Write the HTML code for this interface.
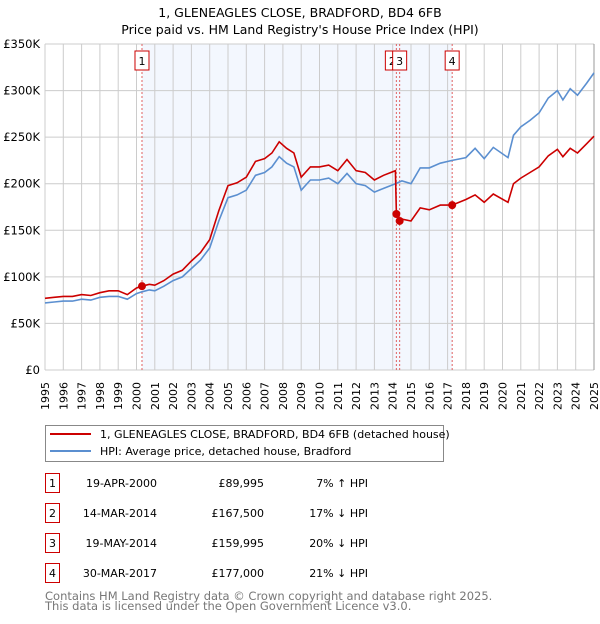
<!DOCTYPE html>
<html><head><meta charset="utf-8"><style>
body{margin:0;background:#fff;font-family:"DejaVu Sans","Liberation Sans",sans-serif;}
svg text{font-family:"DejaVu Sans","Liberation Sans",sans-serif;}
</style></head><body>
<svg id="c" width="600" height="620" xmlns="http://www.w3.org/2000/svg">
<text x="300" y="17" font-size="12.5" text-anchor="middle">1, GLENEAGLES CLOSE, BRADFORD, BD4 6FB</text>
<text x="300" y="34" font-size="12.5" text-anchor="middle">Price paid vs. HM Land Registry's House Price Index (HPI)</text>
<g id="plot"></g>
<g>
<rect x="45.5" y="425.5" width="398" height="36" fill="#fff" stroke="#888"/>
<line x1="50" y1="434" x2="91" y2="434" stroke="#cc0000" stroke-width="2"/>
<text x="100" y="438" font-size="11">1, GLENEAGLES CLOSE, BRADFORD, BD4 6FB (detached house)</text>
<line x1="50" y1="451" x2="91" y2="451" stroke="#5b8fd0" stroke-width="2"/>
<text x="100" y="455" font-size="11">HPI: Average price, detached house, Bradford</text>
</g>
<g id="tbl" font-size="11"></g>
<text x="45" y="600" font-size="11.5" fill="#777">Contains HM Land Registry data © Crown copyright and database right 2025.</text>
<text x="45" y="610" font-size="11.5" fill="#777">This data is licensed under the Open Government Licence v3.0.</text>
</svg>
<script>
const hpiDates=[1995,1995.5,1996,1996.5,1997,1997.5,1998,1998.5,1999,1999.5,2000,2000.3,2000.7,2001,2001.5,2002,2002.5,2003,2003.5,2004,2004.5,2005,2005.5,2006,2006.5,2007,2007.4,2007.8,2008.2,2008.6,2009.0,2009.5,2010,2010.5,2011,2011.5,2012,2012.5,2013,2013.5,2014.15,2014.5,2015,2015.5,2016,2016.6,2017.25,2018,2018.5,2019,2019.5,2020.3,2020.6,2021,2021.5,2022,2022.5,2023,2023.3,2023.7,2024.1,2024.6,2025];
const hpiValues=[72,73,74,74,76,75,78,79,79,76,82,84,86,85,90,96,100,109,118,131,160,185,188,193,209,212,218,229,222,218,193,204,204,206,200,211,200,198,191,195,200,203,200,217,217,222,225,228,238,227,239,228,252,261,268,276,292,300,290,302,295,308,319];
const propDates=[1995,1995.5,1996,1996.5,1997,1997.5,1998,1998.5,1999,1999.5,2000,2000.3,2000.7,2001,2001.5,2002,2002.5,2003,2003.5,2004,2004.5,2005,2005.5,2006,2006.5,2007,2007.4,2007.8,2008.2,2008.6,2009.0,2009.5,2010,2010.5,2011,2011.5,2012,2012.5,2013,2013.5,2014.15,2014.2,2014.38,2014.5,2015,2015.5,2016,2016.6,2017.25,2018,2018.5,2019,2019.5,2020.3,2020.6,2021,2021.5,2022,2022.5,2023,2023.3,2023.7,2024.1,2024.6,2025];
const propValues=[77,78,79,79,81,80,83,85,85,81,88,90,92,91,96,103,107,117,126,140,171,198,201,207,224,227,233,245,238,233,207,218,218,220,214,226,214,212,204,209,214,167.5,160,162,160,174,172,177,177,183,188,180,189,180,200,206,212,218,230,237,229,238,233,243,251];
const saleIds=["1","2","3","4"];
const saleDates=[2000.3,2014.2,2014.38,2017.25];
const saleValues=[89.995,167.5,159.995,177];
const saleDateText=["19-APR-2000","14-MAR-2014","19-MAY-2014","30-MAR-2017"];
const salePriceText=["£89,995","£167,500","£159,995","£177,000"];
const saleHpiText=["7% ↑ HPI","17% ↓ HPI","20% ↓ HPI","21% ↓ HPI"];
const yTicks=[0,50,100,150,200,250,300,350];
const yTickLabels=["£0","£50K","£100K","£150K","£200K","£250K","£300K","£350K"];
const xYears=[1995,1996,1997,1998,1999,2000,2001,2002,2003,2004,2005,2006,2007,2008,2009,2010,2011,2012,2013,2014,2015,2016,2017,2018,2019,2020,2021,2022,2023,2024,2025];

const NS="http://www.w3.org/2000/svg";
const X0=45,X1=594,Y0=370,Y1=44;
const xs=t=>X0+(t-1995)/30*(X1-X0);
const ys=v=>Y0-v/350*(Y0-Y1);
const plot=document.getElementById('plot');
function mk(tag,at,parent){const e=document.createElementNS(NS,tag);for(const k in at)e.setAttribute(k,at[k]);(parent||plot).appendChild(e);return e;}
let sh=mk('rect',{x:xs(saleDates[0]),y:Y1,width:xs(saleDates[3])-xs(saleDates[0]),height:Y0-Y1,fill:'#eef3fd',opacity:0.7});


xYears.forEach(yr=>{
 let l=mk('line',{x1:xs(yr),x2:xs(yr),y1:Y1,y2:Y0,stroke:'#cccccc'});
 
 
 let t=mk('text',{x:0,y:0,'font-size':11,'text-anchor':'end',transform:`translate(${xs(yr)+4},382) rotate(-90)`});
 t.textContent=yr;
 
 
});
yTicks.forEach((v,i)=>{
 let l=mk('line',{x1:X0,x2:X1,y1:ys(v),y2:ys(v),stroke:'#cccccc'});
 
 
 let t=mk('text',{x:40,y:ys(v)+4,'font-size':11.5,'text-anchor':'end'});
 t.textContent=yTickLabels[i];
 
 
});
let rb=mk('line',{x1:X1,x2:X1,y1:Y1,y2:Y0,stroke:'#999'});


saleDates.forEach((d,i)=>{
 let l=mk('line',{x1:xs(d),x2:xs(d),y1:Y1,y2:Y0,stroke:'#e06060','stroke-dasharray':'2,2'});
 
 
});
const pts=(ds,vs)=>ds.map((d,i)=>xs(d).toFixed(1)+','+ys(vs[i]).toFixed(1)).join(' ');
let hl=mk('polyline',{points:pts(hpiDates,hpiValues),fill:'none',stroke:'#5b8fd0','stroke-width':1.6});


let pl=mk('polyline',{points:pts(propDates,propValues),fill:'none',stroke:'#cc0000','stroke-width':1.6});


saleDates.forEach((d,i)=>{
 let c=mk('circle',{cx:xs(d),cy:ys(saleValues[i]),r:4,fill:'#cc0000'});
 
 
});
[1,0,2,3].forEach(i=>{
 const cx=xs(saleDates[i])+(i==1?-4:0);
 let g=mk('g',{});
 
 
 mk('rect',{x:cx-7,y:51,width:14,height:19,fill:'#fff',stroke:'#cc0000'},g);
 let t=mk('text',{x:cx,y:65,'font-size':11,'text-anchor':'middle'},g);
 t.textContent=saleIds[i];
});
const tbl=document.getElementById('tbl');
saleIds.forEach((id,i)=>{
 const y=483+i*30;
 let g=mk('g',{},tbl);
 
 
 mk('rect',{x:45.5,y:y-9.5,width:14,height:19,fill:'#fff',stroke:'#cc0000'},g);
 let a=mk('text',{x:52.5,y:y+4,'text-anchor':'middle'},g);a.textContent=id;
 let b=mk('text',{x:157,y:y+4,'text-anchor':'end'},g);b.textContent=saleDateText[i];
 let c=mk('text',{x:264,y:y+4,'text-anchor':'end'},g);c.textContent=salePriceText[i];
 let e=mk('text',{x:368,y:y+4,'text-anchor':'end'},g);e.textContent=saleHpiText[i];
});
</script>
</body></html>
